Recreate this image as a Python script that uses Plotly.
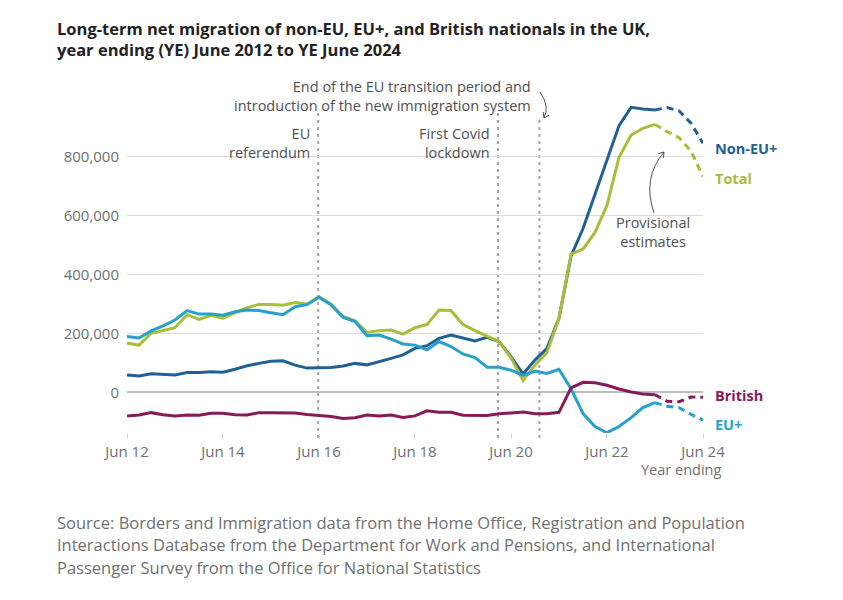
import pandas as pd
import plotly.graph_objects as go

# Year ending quarters, YE Jun 2012 to YE Jun 2024
quarters = pd.date_range("2012-06-30", "2024-06-30", freq="QE")

# Net migration, thousands
non_eu = [59, 55, 63, 62, 59, 67, 67, 70, 68, 78, 90, 98, 105, 107, 92, 82,
          84, 84, 89, 98, 93, 103, 115, 127, 149, 158, 183, 194, 183, 174, 186, 172,
          121, 62, 110, 149, 251, 462, 556, 672, 790, 904, 966, 960, 957,
          965, 954, 912, 844]
total = [166, 160, 200, 209, 219, 263, 247, 261, 251, 270, 287, 298, 298, 295, 304, 299,
         324, 299, 257, 242, 203, 209, 211, 197, 219, 230, 279, 277, 230, 209, 190, 172,
         117, 40, 93, 135, 251, 468, 486, 542, 633, 797, 872, 895, 908,
         884, 863, 818, 731]
eu_plus = [189, 184, 208, 225, 245, 277, 265, 265, 261, 273, 279, 277, 270, 263, 290, 297,
           322, 296, 254, 240, 192, 194, 180, 164, 160, 144, 172, 155, 130, 118, 85, 85,
           75, 57, 72, 64, 78, 12, -73, -116, -137, -116, -86, -52, -35,
           -47, -52, -75, -94]
british = [-80, -77, -69, -76, -80, -77, -78, -71, -71, -76, -77, -69, -69, -69, -70, -75,
           -78, -82, -89, -86, -77, -80, -77, -85, -80, -63, -68, -68, -78, -79, -79, -73,
           -71, -67, -73, -73, -68, 15, 34, 32, 24, 11, 1, -6, -8,
           -30, -32, -16, -17]

provisional_from = 44  # YE Jun 2023 onwards is provisional

tick_dates = ["2012-06-30", "2014-06-30", "2016-06-30", "2018-06-30",
              "2020-06-30", "2022-06-30", "2024-06-30"]
tick_labels = ["Jun 12", "Jun 14", "Jun 16", "Jun 18", "Jun 20", "Jun 22", "Jun 24"]

y_ticks = [0, 200000, 400000, 600000, 800000]

event_dates = ["2016-06-23", "2020-03-23", "2021-02-01"]

series = [
    ("Non-EU+", non_eu, "#206095"),
    ("Total", total, "#a8bd3a"),
    ("EU+", eu_plus, "#27a0cc"),
    ("British", british, "#871a5b"),
]

# plot area in page pixels (the page adds an 8px body margin)
OFF = 8
L, R, T, B = 127, 703, 100, 433
W, H = 843 - OFF, 600 - OFF
FONT = "Open Sans"
GREY = "#707070"
TEXT = "#505050"


def px(x):
    return (x - L) / (R - L)


def py(y):
    return (B - y) / (B - T)


# y range that puts 0 at 392 and 800,000 at 156 px
PER_PX = 800000 / (392.3 - 156.3)
y_range = [(392.3 - B) * PER_PX, (392.3 - T) * PER_PX]

fig = go.Figure()

for name, vals, colour in series:
    v = [val * 1000 for val in vals]
    k = provisional_from
    fig.add_trace(go.Scatter(x=quarters[:k + 1], y=v[:k + 1], mode="lines", name=name,
                             line=dict(color=colour, width=3)))
    fig.add_trace(go.Scatter(x=quarters[k:], y=v[k:], mode="lines", name=name + " (provisional)",
                             line=dict(color=colour, width=3, dash="7px,5px")))

# event lines
for d, top in zip(event_dates, [112, 112, 118]):
    fig.add_shape(type="line", xref="x", yref="paper", x0=d, x1=d, y0=py(438), y1=py(top),
                  line=dict(color="#a6a6a6", width=2, dash="3px,4px"), layer="below")


def add_text(lines, x, y, anchor, size=14.5, color=TEXT, bold=False):
    t = "<br>".join(lines)
    if bold:
        t = "<b>" + t + "</b>"
    fig.add_annotation(text=t, xref="paper", yref="paper", x=px(x), y=py(y),
                       xanchor=anchor, yanchor="middle", align=anchor if anchor != "center" else "center",
                       showarrow=False, font=dict(family=FONT, size=size, color=color))


def curved_arrow(p0, c, p1, head=6):
    import math
    path = "M {},{} Q {},{} {},{}".format(px(p0[0]), py(p0[1]), px(c[0]), py(c[1]),
                                          px(p1[0]), py(p1[1]))
    dx, dy = c[0] - p1[0], c[1] - p1[1]
    n = math.hypot(dx, dy)
    dx, dy = dx / n, dy / n
    pts = []
    for a in (0.6, -0.6):
        rx = dx * math.cos(a) - dy * math.sin(a)
        ry = dx * math.sin(a) + dy * math.cos(a)
        pts.append((p1[0] + rx * head, p1[1] + ry * head))
    path += " M {},{} L {},{} L {},{}".format(px(pts[0][0]), py(pts[0][1]), px(p1[0]), py(p1[1]),
                                             px(pts[1][0]), py(pts[1][1]))
    fig.add_shape(type="path", xref="paper", yref="paper", path=path,
                  line=dict(color=TEXT, width=1))


add_text(["End of the EU transition period and",
          "introduction of the new immigration system"], 533, 96, "right")
add_text(["EU", "referendum"], 312, 143, "right")
add_text(["First Covid", "lockdown"], 492, 143, "right")
add_text(["Provisional", "estimates"], 653, 232, "center")
curved_arrow((540, 92), (550, 106), (544, 118))
curved_arrow((654, 213), (642, 178), (664, 152))

# series labels at the right
for (name, _, colour), ylab in zip(series, [148, 178, 424, 395]):
    add_text([name], 713, ylab, "left", size=14.5, color=colour, bold=True)

add_text(["Year ending"], 723, 469, "right", size=14.5, color=GREY)

# title and source
add_text(["Long-term net migration of non-EU, EU+, and British nationals in the UK,",
          "year ending (YE) June 2012 to YE June 2024"], 55, 38.5, "left",
         size=16.5, color="#222222", bold=True)
for i, line in enumerate([
        "Source: Borders and Immigration data from the Home Office, Registration and Population",
        "Interactions Database from the Department for Work and Pensions, and International",
        "Passenger Survey from the Office for National Statistics"]):
    add_text([line], 55, 522 + 22.5 * i, "left", size=16.5, color=GREY)

fig.update_xaxes(type="date", range=[quarters[0], quarters[-1]], tickvals=tick_dates,
                 ticktext=tick_labels, showgrid=False, zeroline=False, showline=False,
                 ticks="outside", ticklen=5, tickcolor="#d0d0d0",
                 tickfont=dict(family=FONT, size=15, color=GREY))
fig.update_yaxes(range=y_range, tickvals=y_ticks, tickformat=",",
                 showgrid=True, gridcolor="#dcdcdc", gridwidth=1,
                 zeroline=True, zerolinecolor="#bdbdbd", zerolinewidth=2,
                 ticks="", ticklabelstandoff=7, showline=False,
                 tickfont=dict(family=FONT, size=15, color=GREY))

fig.update_layout(width=W, height=H, showlegend=False,
                  margin=dict(l=L - OFF, r=W - (R - OFF), t=T - OFF, b=H - (B - OFF)),
                  plot_bgcolor="white", paper_bgcolor="white",
                  font=dict(family=FONT))

fig.write_html("out.html")
